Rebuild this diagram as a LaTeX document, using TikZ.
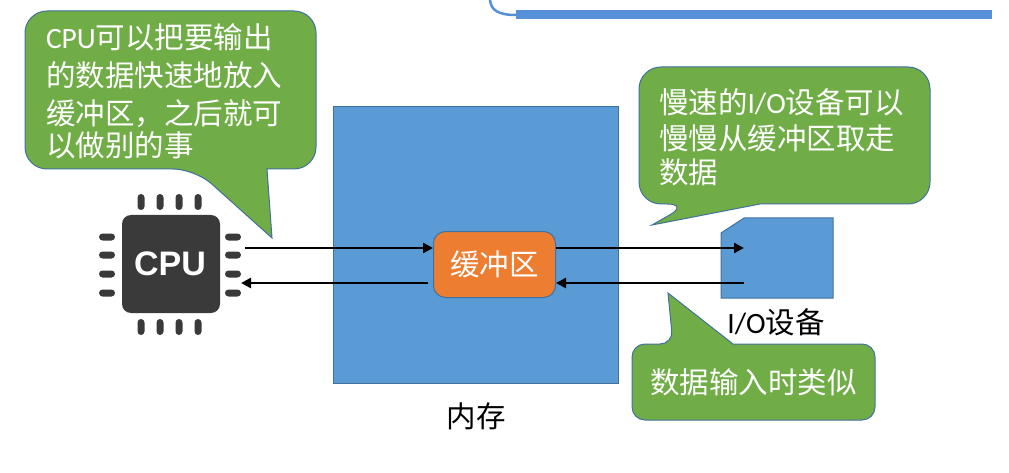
\documentclass[tikz,border=0pt]{standalone}
\usepackage{xcolor}
\usepackage{fontspec}
\setmainfont{Carlito}
\setsansfont{Liberation Sans}
\newfontfamily\cjk{Noto Sans CJK SC}
\usetikzlibrary{positioning}
\usetikzlibrary{arrows.meta}
\definecolor{memblue}{HTML}{5B9BD5}
\definecolor{edgeblue}{HTML}{41719C}
\definecolor{bufferorange}{HTML}{ED7D31}
\definecolor{tipgreen}{HTML}{70AD47}
\definecolor{chipgray}{HTML}{3A3A3A}
\definecolor{barblue}{HTML}{5590D8}
\begin{document}
\begin{tikzpicture}[
	x=1pt,y=-1pt,
	line width=1pt,
	font=\cjk\fontsize{29.5}{37}\selectfont
]
\tikzset{
    memrect/.style = {rectangle, draw=edgeblue, fill=memblue, inner sep=0pt},
    bufrect/.style = {rectangle, draw=edgeblue, fill=bufferorange, rounded corners=12pt, inner sep=0pt, text=white},
    chiprect/.style = {rectangle, fill=chipgray, rounded corners=9pt, inner sep=0pt, text=white, font=\sffamily\bfseries\fontsize{34}{34}\selectfont},
    pinh/.style = {fill=chipgray, rounded corners=3.5pt},
    tipshape/.style = {draw=edgeblue, fill=tipgreen},
    tiptext/.style = {align=left, anchor=west, inner sep=0pt, text=white},
    flow/.style = {draw=black, line width=2.5pt, -{Triangle[length=10pt,width=10pt]}}
}
\useasboundingbox (0,0) rectangle (1009,473);
% top bar
\draw[barblue, line width=2.5pt] (490,0) .. controls (491,10) and (498,15) .. (516,15);
\fill[barblue] (516,10.5) rectangle (992,19.5);
% memory
\node[memrect,minimum width=285pt,minimum height=276pt] (mem) at (476,245) {};
\node[below=15pt of mem] (memlabel) {内存};
\node[bufrect,minimum width=122pt,minimum height=66pt] (buf) at (494.5,264.5) {缓冲区};
% cpu
\node[chiprect,minimum width=98pt,minimum height=98pt,text depth=0pt] (cpu) at (171,264) {\hspace{-2pt}CPU};
\foreach \px in {141,160,179,198}{
    \fill[pinh] (\px-3.5,194) rectangle (\px+3.5,210);
    \fill[pinh] (\px-3.5,319) rectangle (\px+3.5,335);
}
\foreach \py in {237,255,274,293}{
    \fill[pinh] (99,\py-3.5) rectangle (115,\py+3.5);
    \fill[pinh] (225,\py-3.5) rectangle (241,\py+3.5);
}
% i/o device
\draw[memrect] (744,218) -- (833,218) -- (833,298) -- (721,298) -- (721,233) -- cycle;
\node (iolabel) at (776,322) {{\rmfamily I/O}设备};
% arrows
\coordinate (cpuout) at (245,248);
\coordinate (cpuin) at (241,283);
\coordinate (ioin) at (744,248);
\coordinate (ioout) at (744,283);
\coordinate (bufleft) at (428,283);
\draw[flow] (cpuout) -- (buf.west |- cpuout);
\draw[flow] (bufleft) -- (cpuin);
\draw[flow] (buf.east |- ioin) -- (ioin);
\draw[flow] (ioout) -- (buf.east |- ioout);
% callouts
\draw[tipshape] (267,169) [rounded corners=22pt] -- (316,169) -- (316,11) -- (25,11) -- (25,169) -- (195,169) [sharp corners] -- (272,238) -- cycle;
\node[tiptext] (cputip) at (45.5,91) {{\rmfamily CPU}可以把要输出\\[1pt]的数据快速地放入\\[1pt]缓冲区，之后就可\\[-5pt]以做别的事};
\draw[tipshape] (760,204) [rounded corners=22pt] -- (930,204) -- (930,67) -- (639,67) -- (639,204) -- (689,204) [sharp corners] -- (652,225) -- cycle;
\node[tiptext] (iotip) at (658.5,137) {慢速的{\rmfamily I/O}设备可以\\[-1pt]慢慢从缓冲区取走\\[-3pt]数据};
\draw[tipshape] (733,344) [rounded corners=13pt] -- (875,344) -- (875,420) -- (632,420) -- (632,344) -- (673,344) [sharp corners] -- (668,293) -- cycle;
\node[tiptext] (intip) at (649.5,382) {数据输入时类似};
\end{tikzpicture}
\end{document}
